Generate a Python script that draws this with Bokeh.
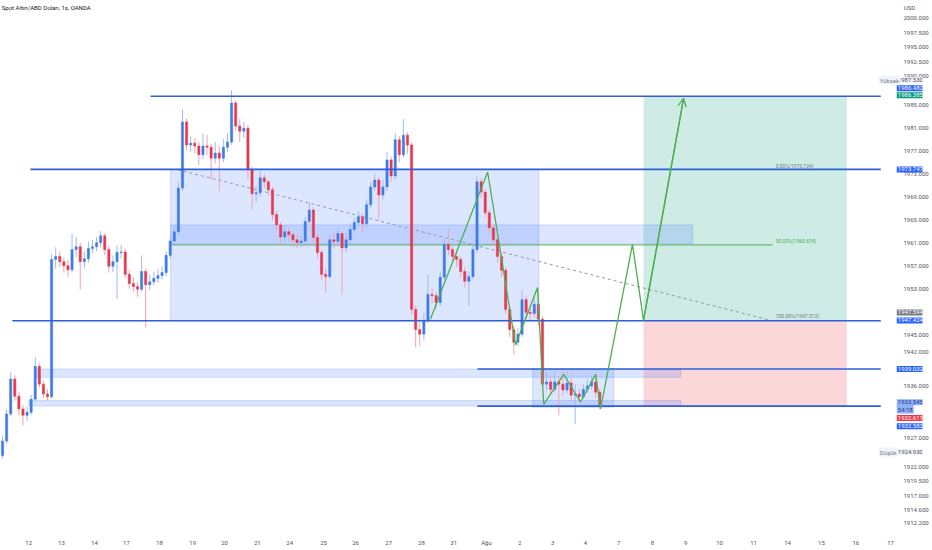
import numpy as np
from bokeh.plotting import figure
from bokeh.models import (ColumnDataSource, FixedTicker, PrintfTickFormatter,
                          Label, Arrow, OpenHead)
from bokeh.embed import file_html
from bokeh.resources import INLINE

TITLE = "Spot Altın/ABD Doları, 1s, OANDA"

# candles (8 per trading day), USD
first_open = 1924.0
closes = [1926.5, 1931.2, 1937.3, 1934.3, 1932.1, 1931.0, 1931.5, 1933.8, 1939.5, 1936.4,
          1934.7, 1934.2, 1958.1, 1958.6, 1957.7, 1957.0, 1956.3, 1959.8, 1960.3, 1957.7,
          1958.2, 1960.0, 1960.3, 1961.0, 1962.2, 1959.8, 1956.9, 1957.7, 1959.3, 1959.4,
          1955.5, 1953.9, 1953.4, 1952.9, 1956.0, 1953.7, 1954.2, 1954.8, 1955.3, 1955.8,
          1958.8, 1961.3, 1962.9, 1970.5, 1982.0, 1978.0, 1978.3, 1977.8, 1976.3, 1977.8,
          1977.6, 1975.7, 1976.6, 1975.7, 1977.6, 1978.5, 1985.3, 1981.3, 1980.4, 1980.9,
          1973.7, 1969.5, 1969.7, 1972.3, 1971.6, 1970.2, 1965.9, 1964.1, 1962.0, 1962.9,
          1962.4, 1961.5, 1961.0, 1961.3, 1964.7, 1966.7, 1961.9, 1959.3, 1955.5, 1955.1,
          1961.5, 1961.2, 1962.6, 1960.1, 1961.5, 1963.3, 1964.5, 1965.5, 1964.3, 1967.6,
          1970.7, 1971.9, 1969.3, 1970.7, 1975.4, 1972.6, 1978.9, 1976.3, 1979.7, 1978.0,
          1949.4, 1945.9, 1945.1, 1947.5, 1952.0, 1951.8, 1950.6, 1955.0, 1960.7, 1959.8,
          1958.6, 1958.1, 1956.0, 1954.3, 1955.1, 1959.8, 1971.6, 1969.8, 1966.2, 1963.6,
          1961.5, 1958.6, 1956.2, 1949.4, 1945.9, 1943.7, 1945.1, 1951.1, 1948.9, 1948.7,
          1950.3, 1947.7, 1936.4, 1936.8, 1935.5, 1936.8, 1936.4, 1935.4, 1936.6, 1934.5,
          1934.7, 1934.2, 1935.5, 1936.1, 1936.8, 1935.0, 1932.6]
highs = [1927.5, 1932.0, 1938.5, 1938.0, 1935.0, 1932.8, 1932.5, 1934.5, 1941.0, 1940.0,
         1937.0, 1935.5, 1959.0, 1960.2, 1959.5, 1958.5, 1958.0, 1962.6, 1962.0, 1961.0,
         1959.5, 1961.2, 1961.5, 1962.0, 1963.0, 1962.6, 1960.4, 1958.8, 1960.5, 1960.6,
         1959.9, 1956.2, 1955.0, 1954.2, 1958.8, 1956.5, 1955.5, 1956.0, 1956.4, 1957.0,
         1959.5, 1962.0, 1964.0, 1971.5, 1984.2, 1982.6, 1979.5, 1979.2, 1978.5, 1980.0,
         1979.8, 1978.2, 1978.5, 1977.8, 1979.0, 1980.0, 1987.53, 1985.8, 1982.6, 1982.0,
         1981.5, 1974.2, 1970.8, 1973.5, 1973.0, 1972.0, 1970.8, 1966.5, 1964.6, 1964.0,
         1963.6, 1963.0, 1962.4, 1962.3, 1965.5, 1968.0, 1967.2, 1962.5, 1959.8, 1956.5,
         1962.3, 1962.8, 1963.6, 1963.0, 1962.6, 1964.4, 1965.4, 1966.5, 1966.0, 1968.5,
         1971.6, 1973.0, 1972.4, 1972.0, 1976.8, 1976.0, 1980.0, 1979.6, 1982.5, 1980.2,
         1978.5, 1950.0, 1947.6, 1948.8, 1955.5, 1953.2, 1952.5, 1956.0, 1961.6, 1963.5,
         1960.5, 1959.4, 1958.6, 1956.8, 1956.0, 1960.6, 1972.6, 1972.2, 1970.4, 1966.8,
         1964.2, 1962.0, 1959.2, 1956.8, 1950.0, 1946.6, 1946.2, 1952.8, 1951.8, 1950.0,
         1951.5, 1952.3, 1948.2, 1938.5, 1937.6, 1938.6, 1937.8, 1938.8, 1938.6, 1937.4,
         1936.4, 1935.6, 1936.4, 1937.2, 1937.9, 1937.4, 1935.6]
lows = [1923.5, 1926.0, 1930.8, 1933.5, 1931.0, 1929.2, 1930.0, 1931.0, 1933.5, 1935.8,
        1934.0, 1933.5, 1934.0, 1956.5, 1956.8, 1955.8, 1955.0, 1955.8, 1958.5, 1952.8,
        1956.5, 1957.5, 1959.2, 1959.5, 1960.2, 1958.8, 1955.8, 1955.9, 1951.2, 1958.2,
        1954.8, 1953.0, 1952.5, 1951.6, 1952.5, 1946.2, 1952.8, 1953.6, 1954.0, 1954.6,
        1955.2, 1958.2, 1960.7, 1962.3, 1970.0, 1977.0, 1976.8, 1976.5, 1974.5, 1975.5,
        1976.2, 1972.0, 1974.8, 1970.0, 1975.0, 1976.8, 1978.0, 1980.5, 1978.5, 1979.2,
        1972.0, 1966.8, 1968.0, 1969.0, 1970.5, 1969.2, 1964.8, 1963.2, 1960.8, 1961.2,
        1961.2, 1960.2, 1960.0, 1960.2, 1960.8, 1964.2, 1961.0, 1958.2, 1954.5, 1952.3,
        1954.8, 1960.0, 1960.4, 1952.0, 1959.4, 1960.8, 1962.6, 1963.8, 1962.8, 1963.8,
        1967.0, 1970.0, 1965.0, 1968.5, 1970.0, 1971.6, 1972.0, 1975.0, 1975.8, 1976.5,
        1948.5, 1942.8, 1943.0, 1944.0, 1947.0, 1950.5, 1949.4, 1950.0, 1954.5, 1958.8,
        1957.5, 1956.8, 1955.0, 1953.2, 1950.0, 1954.6, 1959.2, 1968.8, 1965.4, 1962.6,
        1960.4, 1957.6, 1955.0, 1948.6, 1944.6, 1941.5, 1943.0, 1944.6, 1947.8, 1947.5,
        1948.0, 1946.5, 1935.6, 1935.3, 1934.6, 1935.0, 1931.0, 1934.3, 1934.8, 1933.4,
        1929.5, 1933.2, 1933.8, 1934.8, 1935.5, 1934.0, 1932.0]

# time axis (position in candle units)
day_labels = ["12", "13", "14", "17", "18", "19", "20", "21", "24", "25", "26", "27",
              "28", "31", "Ağu", "2", "3", "4", "7", "8", "9", "10", "11", "14", "15", "16",
              "17"]
day_pos = [6.4, 14.4, 22.5, 30.3, 38.4, 46.5, 54.3, 62.3, 70.2, 78.5, 86.3, 94.4,
           102.4, 110.3, 118.3, 126.4, 134.5, 142.5, 150.6, 158.9, 167.0, 175.3, 183.6,
           191.9, 200.2, 208.6, 217.1]

price_ticks = [2000, 1997.5, 1995, 1992.5, 1990, 1985, 1981, 1977, 1973, 1969, 1965, 1961,
               1957, 1953, 1945, 1942, 1936, 1927, 1922, 1919.5, 1917, 1914.6, 1912.2]

# horizontal rays
level_price = [1986.482, 1973.747, 1947.424, 1939.032, 1932.583]
level_from = [36.2, 6.8, 2.4, 116.1, 116.1]

# blue rectangles
box_left = [41.1, 41.1, 8.0, 6.4, 129.6]
box_right = [131.1, 168.7, 165.8, 165.8, 149.4]
box_bottom = [1947.424, 1960.8, 1937.6, 1932.6, 1932.4]
box_top = [1973.747, 1964.1, 1939.032, 1933.545, 1939.0]

# long position
pos_from, pos_to = 156.7, 206.4
pos_entry, pos_target, pos_stop = 1947.424, 1986.482, 1932.583

# fib retracement
fib_levels = [1973.724, 1960.618, 1947.513]
fib_names = ["0.00%", "50.00%", "100.00%"]
fib_from, fib_to = 41.1, 188.3

# dashed trend line
trend_x = [42.8, 187.8]
trend_y = [1973.7, 1947.5]

# projected path
path_x = [104.6, 118.6, 125.4, 130.8, 132.3, 137.2, 141.3, 145.0, 146.2, 154.0, 156.7, 166.5]
path_y = [1947.7, 1973.3, 1943.2, 1953.2, 1932.9, 1938.1, 1933.3, 1938.1, 1932.1, 1960.7,
          1947.5, 1986.1]

UP, DOWN = "#3f7be8", "#e53950"
BLUE = "#2f5fd8"
GREEN = "#4caf50"
FONT = "Roboto"

opens = [first_open] + closes[:-1]
xs = list(range(len(closes)))
up = [c >= o for o, c in zip(opens, closes)]
src = ColumnDataSource(dict(
    x=xs,
    top=[max(o, c) for o, c in zip(opens, closes)],
    bottom=[min(o, c) for o, c in zip(opens, closes)],
    high=highs, low=lows,
    color=[UP if u else DOWN for u in up],
    wick=["#9dbaf2" if u else "#f2a3ad" for u in up],
))

# chart pane ends at EDGE, the price scale is drawn inside the frame right of it
X0, EDGE, X1 = -0.49, 214.7, 224.9
Y0, Y1 = 1912.0, 2003.12

p = figure(frame_width=922, frame_height=524, x_range=(X0, X1), y_range=(Y0, Y1),
           y_axis_location="right", output_backend="svg", toolbar_location=None,
           min_border_left=0, min_border_top=0, min_border_bottom=0, min_border_right=0)
p.grid.visible = False
p.outline_line_color = None
p.background_fill_color = "white"

# zones
p.quad(left=pos_from, right=pos_to, bottom=pos_entry, top=pos_target,
       fill_color="#089981", fill_alpha=0.2, line_color=None)
p.quad(left=pos_from, right=pos_to, bottom=pos_stop, top=pos_entry,
       fill_color="#f23645", fill_alpha=0.2, line_color=None)
p.quad(left=box_left, right=box_right, bottom=box_bottom, top=box_top,
       fill_color="#2962ff", fill_alpha=0.16, line_color="#2962ff", line_alpha=0.2)

# fib 50% line
p.segment(x0=fib_from, y0=fib_levels[1], x1=fib_to, y1=fib_levels[1],
          line_color=GREEN, line_width=1)
p.line(trend_x, trend_y, line_color="#9598a1", line_width=1, line_dash="3 3")

# candles
p.segment(x0="x", y0="high", x1="x", y1="low", line_color="wick", line_width=1, source=src)
p.vbar(x="x", width=0.55, top="top", bottom="bottom", fill_color="color",
       line_color="color", line_width=0.5, source=src)

# levels
p.segment(x0=level_from, y0=level_price, x1=[EDGE] * len(level_price), y1=level_price,
          line_color=BLUE, line_width=1.6)

# projection
p.line(path_x, path_y, line_color=GREEN, line_width=1.3)
p.add_layout(Arrow(end=OpenHead(size=8, line_color=GREEN, line_width=1.3),
                   x_start=path_x[-2], y_start=path_y[-2], x_end=path_x[-1], y_end=path_y[-1],
                   line_color=GREEN, line_width=1.3))

for lvl, name, col in zip(fib_levels, fib_names, ["#787b86", GREEN, "#787b86"]):
    p.add_layout(Label(x=fib_to + 0.7, y=lvl, text="%s(%.3f)" % (name, lvl),
                       text_font=FONT, text_font_size="5px", text_color=col,
                       text_baseline="bottom", y_offset=1))

p.add_layout(Label(x=X0 + 0.3, y=2001.9, text=TITLE, text_font=FONT, text_font_size="6px",
                   text_color="#131722", text_baseline="middle"))

# axes
p.yaxis.ticker = FixedTicker(ticks=price_ticks)
p.yaxis.formatter = PrintfTickFormatter(format="%.3f")
p.xaxis.ticker = FixedTicker(ticks=day_pos)
p.xaxis.major_label_overrides = {pos: lab for pos, lab in zip(day_pos, day_labels)}
for ax in (p.xaxis[0], p.yaxis[0]):
    ax.axis_line_color = None
    ax.major_tick_line_color = None
    ax.minor_tick_line_color = None
    ax.major_label_text_font = FONT
    ax.major_label_text_font_size = "6px"
    ax.major_label_text_color = "#50535e"
p.yaxis.major_label_standoff = -25
p.xaxis.major_label_standoff = 8

# price tags on the scale
def tag(text, y, bg, fg="white", off=16):
    p.add_layout(Label(x=EDGE, y=y, x_offset=off, text=text, text_font=FONT,
                       text_font_size="6px", text_color=fg, text_baseline="middle",
                       background_fill_color=bg, padding=1))

tag("USD", 2001.9, "white", "#50535e", off=22)
tag("1987.530", 1989.25, "#f0f3fa", "#50535e")
tag("Yüksek", 1989.25, "#f0f3fa", "#787b86", off=-2)
tag("1986.482", 1987.87, "#2962ff")
tag("1986.385", 1986.66, "#089981")
tag("1973.747", 1973.747, "#2962ff")
tag("1947.594", 1948.87, "#787b86")
tag("1947.424", 1947.49, "#2962ff")
tag("1939.032", 1939.032, "#2962ff")
tag("1933.545", 1933.28, "#8fb0f7", "#1e3c8c")
tag("54:18", 1932.07, "#8fb0f7", "#1e3c8c")
tag("1932.611", 1930.5, "#f23645")
tag("1932.583", 1929.1, "#2962ff")
tag("1924.930", 1924.6, "#f0f3fa", "#50535e")
tag("Düşük", 1924.6, "#f0f3fa", "#787b86", off=-2)

open("out.html", "w").write(file_html(p, INLINE))
